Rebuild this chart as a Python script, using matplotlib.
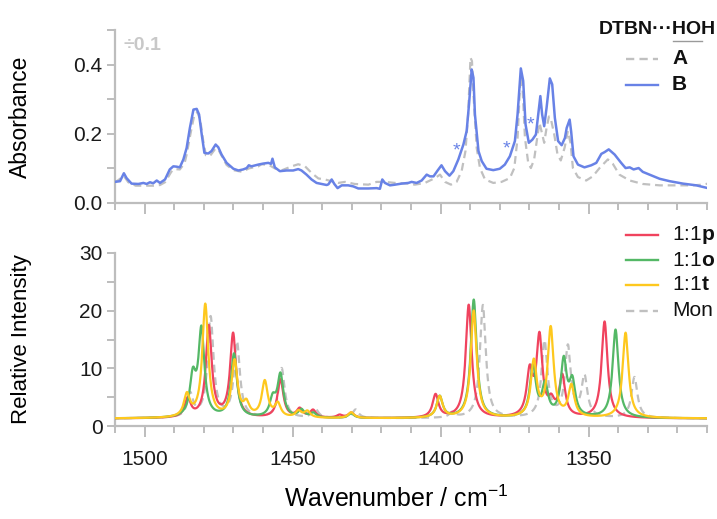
import numpy as np
import matplotlib
matplotlib.use("Agg")
import matplotlib.pyplot as plt
from matplotlib.lines import Line2D
from matplotlib.ticker import MultipleLocator, FuncFormatter

plt.rcParams['font.family'] = ['Liberation Sans', 'DejaVu Sans']
plt.rcParams['mathtext.fontset'] = 'custom'
plt.rcParams['mathtext.rm'] = 'Liberation Sans'
plt.rcParams['mathtext.bf'] = 'Liberation Sans:bold'

# ---------------- experimental spectra (wavenumber / cm-1, absorbance) ----------------
wn_B = [1510.2, 1508.3, 1507.0, 1506.1, 1504.4, 1502.1, 1500.4, 1499.3, 1498.2, 1497.1,
        1495.9, 1494.8, 1493.1, 1491.5, 1490.3, 1489.2, 1488.1, 1486.9, 1485.8, 1484.7,
        1483.5, 1482.4, 1481.6, 1480.7, 1479.8, 1478.5, 1477.4, 1476.0, 1475.1, 1474.0,
        1472.3, 1470.0, 1468.3, 1466.7, 1465.5, 1464.8, 1463.9, 1461.6, 1459.9, 1458.2,
        1457.3, 1456.8, 1456.0, 1454.3, 1452.0, 1449.8, 1448.1, 1447.0, 1445.3, 1443.6,
        1441.9, 1440.2, 1438.5, 1437.9, 1436.8, 1435.9, 1434.8, 1433.4, 1431.2, 1429.5,
        1427.8, 1424.4, 1421.6, 1420.5, 1419.7, 1418.8, 1417.1, 1415.4, 1413.2, 1410.9,
        1409.8, 1408.1, 1406.4, 1404.7, 1403.6, 1402.4, 1401.0, 1399.7, 1398.5, 1397.0,
        1395.7, 1394.0, 1392.3, 1391.2, 1390.4, 1389.5, 1388.9, 1388.4, 1387.2, 1386.1,
        1384.5, 1382.2, 1380.0, 1378.3, 1376.6, 1374.9, 1374.0, 1372.9, 1372.1, 1371.3,
        1370.2, 1369.0, 1367.8, 1367.0, 1366.3, 1365.7, 1365.0, 1364.2, 1363.1, 1362.3,
        1361.4, 1360.3, 1359.1, 1358.0, 1357.4, 1356.4, 1355.9, 1355.1, 1353.6, 1351.4,
        1349.1, 1347.4, 1345.7, 1344.6, 1343.2, 1341.2, 1339.0, 1337.5, 1336.1, 1334.8,
        1333.1, 1331.7, 1329.4, 1326.0, 1322.6, 1318.1, 1313.6, 1309.7]
abs_B = [0.061, 0.063, 0.086, 0.072, 0.056, 0.055, 0.058, 0.055, 0.060, 0.057,
         0.065, 0.058, 0.068, 0.097, 0.106, 0.105, 0.103, 0.126, 0.159, 0.217,
         0.270, 0.272, 0.256, 0.198, 0.145, 0.143, 0.150, 0.169, 0.161, 0.140,
         0.116, 0.099, 0.094, 0.097, 0.101, 0.109, 0.106, 0.111, 0.114, 0.116,
         0.113, 0.128, 0.103, 0.092, 0.094, 0.094, 0.098, 0.094, 0.082, 0.068,
         0.058, 0.055, 0.052, 0.054, 0.068, 0.055, 0.043, 0.051, 0.051, 0.048,
         0.042, 0.042, 0.043, 0.041, 0.068, 0.058, 0.051, 0.053, 0.056, 0.058,
         0.061, 0.058, 0.065, 0.082, 0.077, 0.077, 0.094, 0.109, 0.092, 0.079,
         0.092, 0.126, 0.169, 0.208, 0.285, 0.386, 0.362, 0.256, 0.150, 0.121,
         0.099, 0.095, 0.099, 0.111, 0.135, 0.179, 0.256, 0.389, 0.353, 0.227,
         0.174, 0.183, 0.198, 0.256, 0.309, 0.256, 0.222, 0.275, 0.360, 0.343,
         0.246, 0.179, 0.167, 0.188, 0.217, 0.241, 0.207, 0.135, 0.111, 0.103,
         0.109, 0.116, 0.142, 0.147, 0.155, 0.140, 0.116, 0.101, 0.103, 0.097,
         0.101, 0.090, 0.082, 0.070, 0.063, 0.056, 0.051, 0.043]

wn_A = [1510.2, 1507.0, 1505.5, 1503.0, 1500.4, 1497.0, 1494.8, 1493.1, 1491.0, 1490.0,
        1488.1, 1486.5, 1485.8, 1484.5, 1483.2, 1482.2, 1481.2, 1480.2, 1479.3, 1478.0,
        1476.0, 1474.8, 1472.3, 1470.0, 1467.0, 1464.8, 1461.6, 1460.5, 1458.0, 1456.0,
        1453.8, 1450.3, 1448.1, 1445.8, 1443.6, 1441.3, 1439.1, 1436.8, 1434.6, 1432.3,
        1429.0, 1424.4, 1421.6, 1418.8, 1415.4, 1410.9, 1408.7, 1405.3, 1401.9, 1400.2,
        1398.5, 1396.5, 1394.6, 1392.9, 1391.6, 1390.7, 1389.9, 1389.4, 1388.9, 1387.8,
        1386.7, 1385.0, 1382.2, 1379.4, 1376.6, 1375.1, 1374.0, 1373.2, 1372.8, 1372.3,
        1371.5, 1370.4, 1369.5, 1368.4, 1367.2, 1366.6, 1365.9, 1365.0, 1364.2, 1363.4,
        1362.8, 1361.6, 1360.5, 1359.4, 1358.1, 1357.0, 1356.1, 1355.3, 1353.6, 1350.8,
        1348.6, 1346.3, 1343.5, 1341.8, 1339.6, 1336.1, 1331.7, 1326.0, 1320.4, 1314.8,
        1311.4, 1309.7]
abs_A = [0.058, 0.078, 0.060, 0.050, 0.050, 0.050, 0.052, 0.060, 0.090, 0.098,
         0.097, 0.115, 0.140, 0.200, 0.255, 0.263, 0.240, 0.180, 0.138, 0.135,
         0.158, 0.150, 0.110, 0.095, 0.090, 0.100, 0.106, 0.112, 0.110, 0.100,
         0.094, 0.106, 0.112, 0.106, 0.087, 0.071, 0.068, 0.063, 0.058, 0.061,
         0.055, 0.053, 0.061, 0.061, 0.058, 0.056, 0.053, 0.058, 0.072, 0.082,
         0.061, 0.053, 0.061, 0.092, 0.150, 0.256, 0.420, 0.410, 0.314, 0.159,
         0.101, 0.068, 0.058, 0.061, 0.072, 0.101, 0.188, 0.333, 0.365, 0.330,
         0.188, 0.116, 0.101, 0.126, 0.198, 0.232, 0.207, 0.174, 0.217, 0.250,
         0.245, 0.198, 0.140, 0.123, 0.160, 0.208, 0.173, 0.101, 0.075, 0.065,
         0.077, 0.101, 0.126, 0.113, 0.082, 0.065, 0.055, 0.051, 0.051, 0.051,
         0.053, 0.056]

# bands marked with an asterisk (wavenumber, absorbance)
star_wn = [1394.8, 1377.7, 1369.5]
star_abs = [0.150, 0.157, 0.225]

# ---------------- computed band positions (cm-1) and intensities ----------------
pos_p = [1485.4, 1478.3, 1470.1, 1454.1, 1447.6, 1443.1, 1434.1, 1430.2,
         1401.7, 1390.5, 1369.9, 1366.6, 1362.6, 1358.9, 1344.6]
int_p = [3.2, 15.8, 14.5, 6.6, 1.5, 1.3, 0.5, 0.9,
         4.0, 19.6, 7.5, 13.7, 2.2, 7.0, 16.7]
pos_o = [1483.7, 1480.8, 1469.8, 1456.7, 1454.1, 1447.0, 1443.0, 1430.2,
         1400.3, 1388.8, 1368.8, 1364.7, 1358.4, 1355.5, 1340.9]
int_o = [6.6, 15.0, 11.0, 3.0, 7.3, 1.3, 0.8, 0.8,
         3.7, 20.5, 8.8, 5.4, 9.6, 5.8, 15.3]
pos_t = [1485.7, 1479.5, 1469.6, 1465.6, 1459.4, 1455.0, 1448.0, 1445.0, 1430.2,
         1400.3, 1388.8, 1368.5, 1362.8, 1355.8, 1337.5]
int_t = [3.8, 19.6, 9.7, 2.2, 6.2, 2.3, 1.1, 1.1, 1.0,
         3.7, 18.6, 9.6, 15.4, 5.4, 14.8]
pos_m = [1484.6, 1477.7, 1468.8, 1453.7, 1442.3, 1428.7, 1396.0, 1385.7,
         1364.9, 1357.0, 1351.4, 1334.5]
int_m = [4.0, 17.4, 13.0, 8.6, 1.6, 1.5, 0.9, 19.6,
         13.2, 12.2, 7.0, 7.1]

BASELINE = 1.3
HWHM = 1.2


def broaden(grid, centers, heights):
    """Lorentzian-broadened stick spectrum on a constant baseline."""
    y = np.full_like(grid, BASELINE)
    for c, h in zip(centers, heights):
        y += h / (1.0 + ((grid - c) / HWHM) ** 2)
    return y


grid = np.linspace(1310, 1510, 4001)

# ---------------- styling ----------------
C_SPINE = '#bdbdbd'
C_GREY = '#c0c0c0'
C_BLUE = '#6882e6'
C_RED = '#f0435e'
C_GREEN = '#54b866'
C_YELLOW = '#fec81e'
DASH = (0, (3.5, 2.2))

W, H = 717, 519
fig = plt.figure(figsize=(W / 100, H / 100), dpi=100)


def px_box(l, t, r, b):
    return [l / W, 1 - b / H, (r - l) / W, (b - t) / H]


ax1 = fig.add_axes(px_box(115, 30, 707, 203))
ax2 = fig.add_axes(px_box(115, 253, 707, 426))

for ax in (ax1, ax2):
    for s in ('top', 'right'):
        ax.spines[s].set_visible(False)
    for s in ('left', 'bottom'):
        ax.spines[s].set_color(C_SPINE)
        ax.spines[s].set_linewidth(1.6)
    ax.set_xlim(1510, 1310)
    ax.xaxis.set_major_locator(MultipleLocator(50))
    ax.xaxis.set_minor_locator(MultipleLocator(10))
    ax.tick_params(which='both', direction='out', color=C_SPINE, width=1.4,
                   labelsize=15, labelcolor='#1a1a1a')
    ax.tick_params(axis='x', which='major', length=8, pad=9)
    ax.tick_params(axis='x', which='minor', length=5)
    ax.tick_params(axis='y', which='both', length=6, pad=3)

ax1.tick_params(axis='x', labelbottom=False)

# top panel
ax1.plot(wn_A, abs_A, color=C_GREY, lw=1.6, ls=DASH, zorder=2)
ax1.plot(wn_B, abs_B, color=C_BLUE, lw=1.8, zorder=3)
for w_, a_ in zip(star_wn, star_abs):
    ax1.text(w_, a_, '*', color=C_BLUE, fontsize=14, ha='center', va='center')
ax1.set_ylim(0, 0.5)
ax1.yaxis.set_major_locator(MultipleLocator(0.2))
ax1.yaxis.set_minor_locator(MultipleLocator(0.1))
ax1.yaxis.set_major_formatter(FuncFormatter(lambda v, p: f'{v:.1f}'))
ax1.set_ylabel('Absorbance', fontsize=16.5)
ax1.yaxis.set_label_coords(-0.14, 0.5)
ax1.text(0.015, 0.91, '÷0.1', transform=ax1.transAxes, color='#c8c8c8',
         fontsize=14, fontweight='bold', ha='left', va='center')

# bottom panel
ax2.plot(grid, broaden(grid, pos_m, int_m), color=C_GREY, lw=1.6, ls=DASH, zorder=2)
ax2.plot(grid, broaden(grid, pos_p, int_p), color=C_RED, lw=1.6, zorder=3)
ax2.plot(grid, broaden(grid, pos_o, int_o), color=C_GREEN, lw=1.6, zorder=4)
ax2.plot(grid, broaden(grid, pos_t, int_t), color=C_YELLOW, lw=1.6, zorder=5)
ax2.set_ylim(0, 30)
ax2.yaxis.set_major_locator(MultipleLocator(10))
ax2.yaxis.set_minor_locator(MultipleLocator(5))
ax2.set_ylabel('Relative Intensity', fontsize=16)
ax2.yaxis.set_label_coords(-0.14, 0.5)
ax2.set_xlabel('Wavenumber / cm$^{\\mathregular{\u22121}}$', fontsize=18)
ax2.xaxis.set_label_coords(0.475, -0.345)

# ---------------- legends drawn in pixel positions ----------------
def fx(x):
    return x / W


def fy(y):
    return 1 - y / H


def legend_row(y, color, dashed, label, bold=False, size=15):
    ls = DASH if dashed else '-'
    fig.add_artist(Line2D([fx(626), fx(658)], [fy(y), fy(y)], color=color,
                          lw=1.7, ls=ls, transform=fig.transFigure))
    fig.text(fx(672), fy(y), label, fontsize=size, va='center', ha='left',
             fontweight='bold' if bold else 'normal', color='#111111')


title = fig.text(fx(716), fy(30), 'DTBN\u00b7\u00b7\u00b7HOH', fontsize=14,
                 fontweight='bold', ha='right', va='center', color='#111111')
legend_row(59, C_GREY, True, 'A', bold=True)
legend_row(85, C_BLUE, False, 'B', bold=True)

legend_row(235, C_RED, False, '1:1$\\mathbf{p}$')
legend_row(260, C_GREEN, False, '1:1$\\mathbf{o}$')
legend_row(285, C_YELLOW, False, '1:1$\\mathbf{t}$')
legend_row(311, C_GREY, True, 'Mon')

# underline beneath the "HO" of the hydrogen-bonded water
fig.canvas.draw()
r = fig.canvas.get_renderer()
bb = title.get_window_extent(r)
tmp = fig.text(0, 0, 'HOH', fontsize=14, fontweight='bold')
w_hoh = tmp.get_window_extent(r).width
tmp.set_text('H')
w_h = tmp.get_window_extent(r).width
tmp.remove()
x0 = (bb.x1 - w_hoh) / fig.bbox.width
x1 = (bb.x1 - w_h) / fig.bbox.width
yl = (bb.y0 - 2) / fig.bbox.height
fig.add_artist(Line2D([x0, x1], [yl, yl], color='#9a9a9a', lw=1.0,
                      transform=fig.transFigure))

fig.savefig('out.png', dpi=100)
